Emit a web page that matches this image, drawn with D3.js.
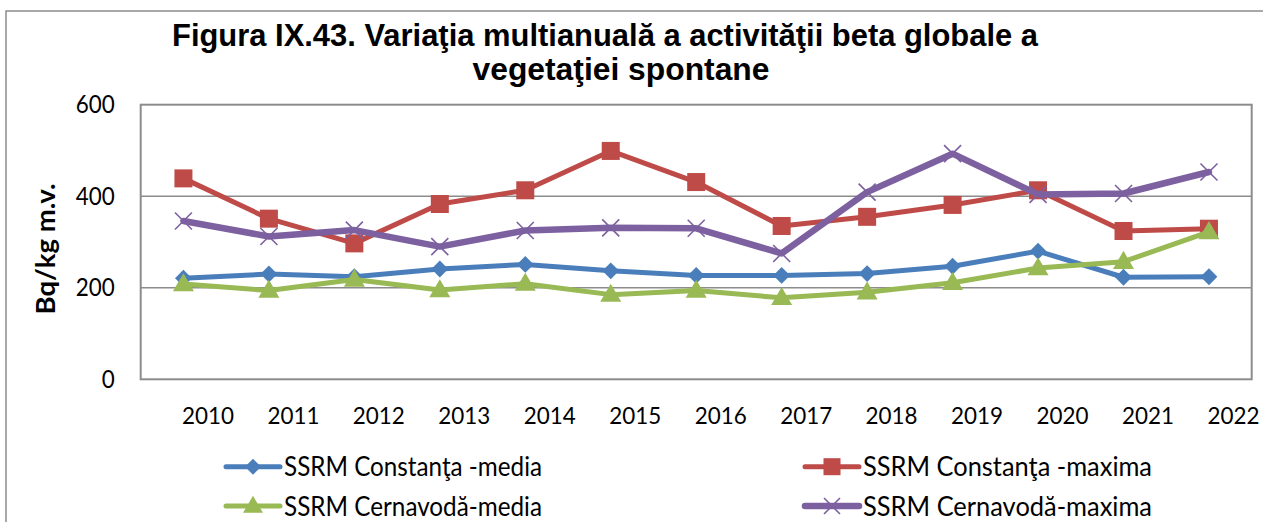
<!DOCTYPE html>
<html>
<head>
<meta charset="utf-8">
<script src="https://cdn.jsdelivr.net/npm/d3@7"></script>
<style>
  html, body { margin: 0; padding: 0; background: #fff; }
  svg { display: block; }
</style>
</head>
<body>
<svg id="chart" width="1263" height="522"></svg>
<script>
// Years on the category axis
const years = ["2010","2011","2012","2013","2014","2015","2016","2017","2018","2019","2020","2021","2022"];

// Gross beta activity, Bq/kg fresh vegetation
const constantaMedia   = [221, 230, 224, 241, 251, 237, 227, 227, 231, 247, 280, 223, 224];
const constantaMaxima  = [439, 351, 297, 383, 413, 499, 431, 335, 355, 381, 413, 324, 329];
const cernavodaMedia   = [208, 194, 218, 195, 209, 185, 194, 178, 190, 211, 243, 257, 322];
const cernavodaMaxima  = [346, 312, 326, 290, 325, 331, 330, 275, 409, 493, 404, 406, 453];

const yTicks = [0, 200, 400, 600];

const seriesNames = [
  "SSRM Constanţa -media",
  "SSRM Constanţa -maxima",
  "SSRM Cernavodă-media",
  "SSRM Cernavodă-maxima"
];

const series = [
  { name: seriesNames[0], values: constantaMedia,  color: "#4A7EBB", marker: "diamond",  width: 5 },
  { name: seriesNames[1], values: constantaMaxima, color: "#BE4B48", marker: "square",   width: 5 },
  { name: seriesNames[2], values: cernavodaMedia,  color: "#98B954", marker: "triangle", width: 5 },
  { name: seriesNames[3], values: cernavodaMaxima, color: "#7D60A0", marker: "cross",    width: 6.5 }
];

const svg = d3.select("#chart");
const plot = { left: 140.7, top: 104.7, right: 1251.7, bottom: 379.3 };
const labelFont = "Lato, 'Open Sans', sans-serif";

// Outer chart frame
svg.append("rect")
  .attr("x", 6).attr("y", 11)
  .attr("width", 1300).attr("height", 600)
  .attr("fill", "none").attr("stroke", "#8c8c8c").attr("stroke-width", 1.5);

// Title
const title = svg.append("g")
  .attr("font-family", "'Liberation Sans', Arial, sans-serif")
  .attr("font-weight", "bold").attr("font-size", 31).attr("fill", "#000")
  .attr("text-anchor", "middle");
title.append("text").attr("x", 605).attr("y", 46)
  .attr("textLength", 866).attr("lengthAdjust", "spacingAndGlyphs")
  .text("Figura IX.43. Variaţia multianuală a activităţii beta globale a");
title.append("text").attr("x", 621).attr("y", 80)
  .attr("textLength", 297).attr("lengthAdjust", "spacingAndGlyphs")
  .text("vegetaţiei spontane");

// Scales
const x = d3.scaleBand().domain(years).range([plot.left, plot.right]).padding(0);
const cx = d => x(d) + x.bandwidth() / 2;
const y = d3.scaleLinear().domain([0, 600]).range([plot.bottom, plot.top]);

// Gridlines
svg.append("g")
  .selectAll("line")
  .data(yTicks.filter(t => t > 0 && t < 600))
  .join("line")
  .attr("x1", plot.left).attr("x2", plot.right)
  .attr("y1", d => y(d)).attr("y2", d => y(d))
  .attr("stroke", "#8c8c8c").attr("stroke-width", 1.5);

// Plot area border
svg.append("rect")
  .attr("x", plot.left).attr("y", plot.top)
  .attr("width", plot.right - plot.left).attr("height", plot.bottom - plot.top)
  .attr("fill", "none").attr("stroke", "#8c8c8c").attr("stroke-width", 2);

// Y axis
const yAxis = svg.append("g")
  .attr("transform", `translate(${plot.left},0)`)
  .call(d3.axisLeft(y).tickValues(yTicks).tickSize(0).tickPadding(26).tickFormat(d3.format("d")));
yAxis.select(".domain").remove();
yAxis.selectAll("text")
  .attr("font-family", labelFont)
  .attr("font-size", 24.5).attr("fill", "#000")
  .attr("textLength", d => String(d).length * 13)
  .attr("lengthAdjust", "spacingAndGlyphs");

// X axis (labels sit to the right of each category)
const xAxis = svg.append("g")
  .attr("transform", `translate(0,${plot.bottom})`)
  .call(d3.axisBottom(x).tickSize(0).tickPadding(0));
xAxis.select(".domain").remove();
xAxis.selectAll("text")
  .attr("font-family", labelFont)
  .attr("font-size", 23).attr("fill", "#000")
  .attr("dy", 0)
  .attr("y", 45)
  .attr("x", 24.5)
  .attr("textLength", 52)
  .attr("lengthAdjust", "spacingAndGlyphs");

// Y axis title
svg.append("text")
  .attr("transform", "translate(55,249) rotate(-90)")
  .attr("text-anchor", "middle")
  .attr("font-family", labelFont)
  .attr("font-weight", "bold").attr("font-size", 27)
  .attr("textLength", 131).attr("lengthAdjust", "spacingAndGlyphs")
  .text("Bq/kg m.v.");

// Marker shapes
function drawMarker(g, type, color, size) {
  if (type === "diamond") {
    g.append("path").attr("d", d3.symbol(d3.symbolDiamond2, size * size * 0.5)())
      .attr("fill", color);
  } else if (type === "square") {
    g.append("rect").attr("x", -size / 2).attr("y", -size / 2)
      .attr("width", size).attr("height", size).attr("fill", color);
  } else if (type === "triangle") {
    const h = size * 0.95;
    g.append("path")
      .attr("d", `M0,${-h * 0.6}L${size / 2 + 1},${h * 0.4}L${-size / 2 - 1},${h * 0.4}Z`)
      .attr("fill", color);
  } else if (type === "cross") {
    const r = size / 2;
    g.append("path").attr("d", `M${-r},${-r}L${r},${r}M${-r},${r}L${r},${-r}`)
      .attr("stroke", color).attr("stroke-width", 1.6).attr("fill", "none");
  }
}

const markerSize = { diamond: 19, square: 18, triangle: 19, cross: 17 };

// Each series: connecting line, then its markers
series.forEach(s => {
  const line = d3.line().x((d, i) => cx(years[i])).y(d => y(d));
  svg.append("path")
    .datum(s.values)
    .attr("d", line)
    .attr("fill", "none")
    .attr("stroke", s.color)
    .attr("stroke-width", s.width)
    .attr("stroke-linejoin", "round")
    .attr("stroke-linecap", "round");
  svg.append("g").selectAll("g")
    .data(s.values)
    .join("g")
    .attr("transform", (d, i) => `translate(${cx(years[i])},${y(d)})`)
    .each(function () { drawMarker(d3.select(this), s.marker, s.color, markerSize[s.marker]); });
});

// Legend
const legendPos = [
  { x: 226, y: 466.7 },
  { x: 805, y: 466.7 },
  { x: 226, y: 506 },
  { x: 805, y: 506 }
];
const legendTextLen = [258, 289, 258, 289];
series.forEach((s, i) => {
  const p = legendPos[i];
  const g = svg.append("g").attr("transform", `translate(${p.x},${p.y})`);
  g.append("line").attr("x1", 0).attr("x2", 54).attr("y1", 0).attr("y2", 0)
    .attr("stroke", s.color).attr("stroke-width", s.width).attr("stroke-linecap", "round");
  const m = g.append("g").attr("transform", "translate(27,0)");
  drawMarker(m, s.marker, s.color, markerSize[s.marker] - 1);
  g.append("text").attr("x", 58).attr("y", 9.5)
    .attr("font-family", labelFont)
    .attr("font-size", 27).attr("fill", "#000")
    .attr("textLength", legendTextLen[i]).attr("lengthAdjust", "spacingAndGlyphs")
    .text(s.name);
});
</script>
</body>
</html>
